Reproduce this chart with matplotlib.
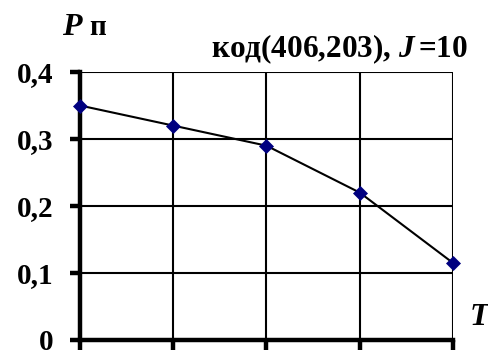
import matplotlib
matplotlib.use("Agg")
import matplotlib.pyplot as plt

# Probability vs. T for code (406,203), J = 10
t_points = [1, 2, 3, 4, 5]
p_values = [0.35, 0.32, 0.29, 0.22, 0.115]
y_ticks = [0.0, 0.1, 0.2, 0.3, 0.4]
y_tick_labels = ["0", "0,1", "0,2", "0,3", "0,4"]

plt.rcParams["font.family"] = ["Liberation Serif", "DejaVu Serif"]
plt.rcParams["font.weight"] = "bold"
plt.rcParams["mathtext.fontset"] = "custom"
plt.rcParams["mathtext.it"] = "Liberation Serif:italic:bold"
plt.rcParams["mathtext.rm"] = "Liberation Serif:bold"

fig = plt.figure(figsize=(4.89, 3.5), dpi=100)
ax = fig.add_axes([80 / 489, 10 / 350, 373 / 489, 268 / 350])

ax.set_xlim(1, 5)
ax.set_ylim(0, 0.4)

ax.plot(t_points, p_values, color="black", lw=1.5, marker="D", ms=7.2,
        markerfacecolor="#000080", markeredgecolor="#000080", markeredgewidth=0.5,
        zorder=5, clip_on=False)

ax.set_xticks(t_points)
ax.set_xticklabels([])
ax.set_yticks(y_ticks)
ax.set_yticklabels(y_tick_labels, fontsize=21, fontweight="bold")

ax.grid(True, color="black", lw=1.5)
ax.set_axisbelow(True)

for side in ("top", "right"):
    ax.spines[side].set_visible(False)
for side in ("left", "bottom"):
    ax.spines[side].set_linewidth(3.2)
    ax.spines[side].set_capstyle("projecting")

ax.tick_params(axis="both", direction="out", length=7, width=3.2, color="black")
ax.tick_params(axis="y", pad=12)

fig.text(62 / 489, 1 - 35 / 350, "P", fontsize=23, fontstyle="italic",
         fontweight="bold", ha="left", va="baseline")
fig.text(89 / 489, 1 - 35 / 350, "п", fontsize=21, fontweight="bold",
         ha="left", va="baseline")
fig.text(468 / 489, 1 - 57 / 350, r"код(406,203), $\mathit{J}\,$=10", fontsize=22.5,
         fontweight="bold", ha="right", va="baseline")
fig.text(470 / 489, 1 - 325 / 350, "T", fontsize=23, fontstyle="italic",
         fontweight="bold", ha="left", va="baseline")

fig.savefig("out.png", dpi=100)
